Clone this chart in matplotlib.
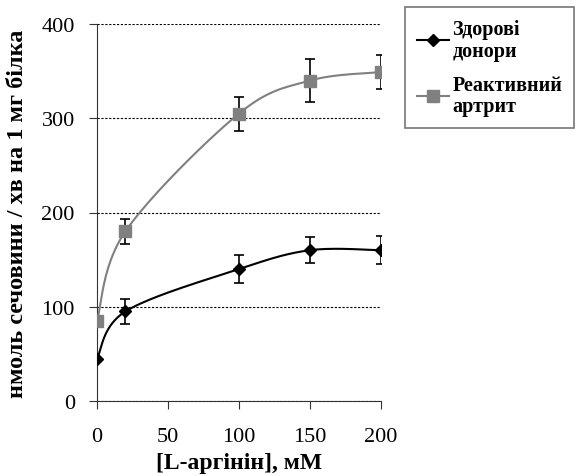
import numpy as np
import matplotlib
matplotlib.use('Agg')
import matplotlib.pyplot as plt

x = [0, 20, 100, 150, 200]
healthy = [45, 95, 140, 160, 160]
healthy_err = [0, 13, 15, 14, 15]
arthritis = [85, 180, 305, 340, 349]
arthritis_err = [0, 13, 18, 23, 18]
labels = ['Здорові\nдонори', 'Реактивний\nартрит']


def smooth(xs, ys, n=40):
    # excel-like smoothed line: cubic bezier with tangents from neighbours
    xs = np.asarray(xs, float)
    ys = np.asarray(ys, float)
    px, py = [], []
    for i in range(len(xs) - 1):
        x0, y0 = xs[i], ys[i]
        x1, y1 = xs[i + 1], ys[i + 1]
        xa, ya = (xs[i - 1], ys[i - 1]) if i > 0 else (x0, y0)
        xb, yb = (xs[i + 2], ys[i + 2]) if i + 2 < len(xs) else (x1, y1)
        c1x, c1y = x0 + (x1 - xa) / 6, y0 + (y1 - ya) / 6
        c2x, c2y = x1 - (xb - x0) / 6, y1 - (yb - y0) / 6
        t = np.linspace(0, 1, n)
        bx = (1 - t) ** 3 * x0 + 3 * (1 - t) ** 2 * t * c1x + 3 * (1 - t) * t ** 2 * c2x + t ** 3 * x1
        by = (1 - t) ** 3 * y0 + 3 * (1 - t) ** 2 * t * c1y + 3 * (1 - t) * t ** 2 * c2y + t ** 3 * y1
        px.extend(bx)
        py.extend(by)
    return np.array(px), np.array(py)


plt.rcParams['font.family'] = ['Liberation Serif', 'DejaVu Serif']

fig = plt.figure(figsize=(5.79, 4.77), dpi=100)
ax = fig.add_axes([97 / 579, 75 / 477, 284 / 579, 377 / 477])

gray = '#808080'
sx, sy = smooth(x, arthritis)
ax.plot(sx, sy, color=gray, lw=1.5, zorder=3)
ax.errorbar(x, arthritis, yerr=arthritis_err, fmt='none', ecolor='black',
            elinewidth=1.2, capsize=3.5, capthick=1.2, zorder=4)
ax.plot(x, arthritis, 's', color=gray, ms=8, zorder=5)

hx, hy = smooth(x, healthy)
ax.plot(hx, hy, color='black', lw=1.5, zorder=3)
ax.errorbar(x, healthy, yerr=healthy_err, fmt='none', ecolor='black',
            elinewidth=1.2, capsize=3.5, capthick=1.2, zorder=4)
ax.plot(x, healthy, 'D', color='black', ms=6, zorder=5)

ax.set_xlim(0, 200)
ax.set_ylim(0, 400)
ax.set_xticks([0, 50, 100, 150, 200])
ax.set_yticks([0, 100, 200, 300, 400])
ax.yaxis.grid(True, linestyle=(0, (2, 1.5)), color='black', lw=0.8)
ax.set_axisbelow(True)
ax.spines['top'].set_visible(False)
ax.spines['right'].set_visible(False)
ax.spines['left'].set_color('#333333')
ax.spines['bottom'].set_color('#333333')
ax.tick_params(axis='both', labelsize=16, length=6, color='#333333')
ax.tick_params(axis='x', pad=13)
ax.tick_params(axis='y', pad=10)

ax.set_xlabel('[L-аргінін], мМ', fontsize=17, fontweight='bold', labelpad=4)
ax.set_ylabel('нмоль сечовини / хв на 1 мг білка', fontsize=17.5, fontweight='bold', labelpad=10)

h1, = ax.plot([], [], '-D', color='black', ms=6, lw=1.5)
h2, = ax.plot([], [], '-s', color=gray, ms=8, lw=1.5)
leg = fig.legend([h1, h2], labels, loc='upper left', bbox_to_anchor=(405 / 579, 1 - 8 / 477),
                 prop={'size': 14.5, 'weight': 'bold'}, frameon=True, fancybox=False,
                 edgecolor='#555555', handlelength=1.6, handletextpad=0.15,
                 labelspacing=0.7, borderpad=0.6, borderaxespad=0)
leg.get_frame().set_linewidth(1.2)
for t in leg.get_texts():
    t.set_linespacing(1.1)

fig.savefig('out.png', dpi=100)
